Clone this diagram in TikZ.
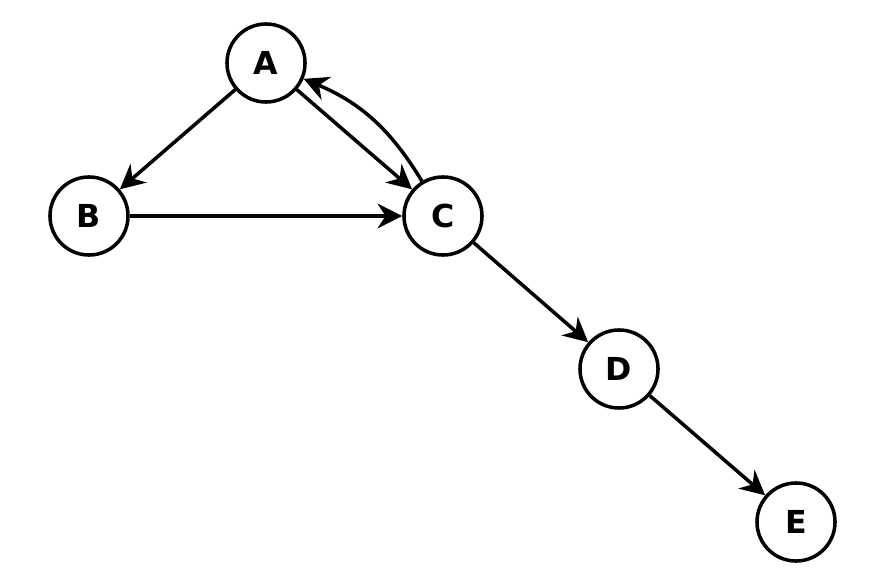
\documentclass[tikz,border=0pt]{standalone}
\usepackage{fontspec}
\setmainfont{DejaVu Sans}
\usetikzlibrary{arrows.meta}
\begin{document}
\begin{tikzpicture}[x=0.01cm,y=-0.01cm]
			\useasboundingbox (0,0) rectangle (885,585);
			\tikzset{vert/.style={draw,circle,line width=1pt,minimum size=0.78cm,inner sep=0pt,font=\bfseries\fontsize{9}{10}\selectfont}}
			\node[vert] (vA) at (266, 63)	{A};
			\node[vert] (vB) at (89, 216)	{B};
			\node[vert] (vC) at (443,216)	{C};
			\node[vert] (vD) at (619,369)	{D};
			\node[vert] (vE) at (796,522)	{E};
			
			\def\list {vA/vB, vA/vC, vB/vC, vC/vD, vD/vE}  % list elements
			\foreach \u\v in \list
			{	\draw[-{Stealth[length=7pt,width=7pt]},line width=1pt] (\u) -- (\v);
			}
			\draw[-{Stealth[length=7pt,width=7pt]},line width=1pt] (vC) to[bend right=18] (vA);
		\end{tikzpicture}
\end{document}
